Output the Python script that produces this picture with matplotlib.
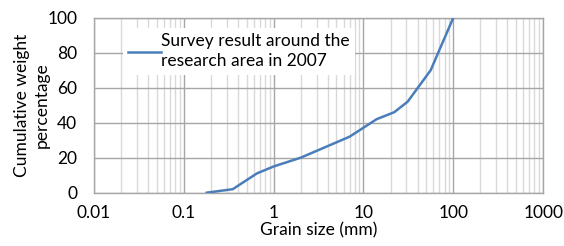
import matplotlib
matplotlib.use("Agg")
import matplotlib.pyplot as plt
from matplotlib.ticker import FixedLocator, LogLocator, NullFormatter

plt.rcParams['font.family'] = ['Lato', 'DejaVu Sans']

# data
grain_size = [0.18, 0.35, 0.65, 1, 2, 7, 14, 22, 31, 56, 100]
cum_weight = [0, 2, 11, 15, 20, 32, 42, 46, 52, 70, 100]
series_name = "Survey result around the\nresearch area in 2007"
xticks = [0.01, 0.1, 1, 10, 100, 1000]
xticklabels = ["0.01", "0.1", "1", "10", "100", "1000"]
yticks = [0, 20, 40, 60, 80, 100]

fs = 12.5

fig = plt.figure(figsize=(5.64, 2.46), dpi=100)
ax = fig.add_axes([0.1667, 0.2167, 0.7963, 0.7113])

ax.plot(grain_size, cum_weight, color='#4a7ebb', linewidth=1.8, label=series_name, zorder=3)

ax.set_xscale('log')
ax.set_xlim(0.01, 1000)
ax.set_ylim(0, 100)
ax.xaxis.set_major_locator(FixedLocator(xticks))
ax.set_xticklabels(xticklabels)
ax.xaxis.set_minor_locator(LogLocator(base=10, subs=range(2, 10), numticks=20))
ax.xaxis.set_minor_formatter(NullFormatter())
ax.set_yticks(yticks)

ax.grid(which='major', color='#a6a6a6', linewidth=1.0, zorder=0)
ax.grid(which='minor', axis='x', color='#d9d9d9', linewidth=1.0, zorder=0)
ax.set_axisbelow(True)

for s in ax.spines.values():
    s.set_color('#a6a6a6')
    s.set_linewidth(1.0)

ax.tick_params(which='both', length=0, labelsize=fs, colors='black')
ax.tick_params(axis='x', pad=9)
ax.tick_params(axis='y', pad=12)

ax.set_xlabel("Grain size (mm)", fontsize=fs, labelpad=1)
ax.set_ylabel("Cumulative weight\npercentage", fontsize=fs, labelpad=-2, linespacing=1.35)

leg = ax.legend(loc='upper left', bbox_to_anchor=(0.065, 0.94), fontsize=fs,
                frameon=True, fancybox=False, handlelength=1.85, handletextpad=0.05,
                borderpad=0.3, borderaxespad=0)
leg.get_texts()[0].set_linespacing(1.3)
leg.get_frame().set_facecolor('white')
leg.get_frame().set_edgecolor('none')
leg.get_frame().set_alpha(1)
leg.set_zorder(5)

fig.savefig("out.png", dpi=100)
